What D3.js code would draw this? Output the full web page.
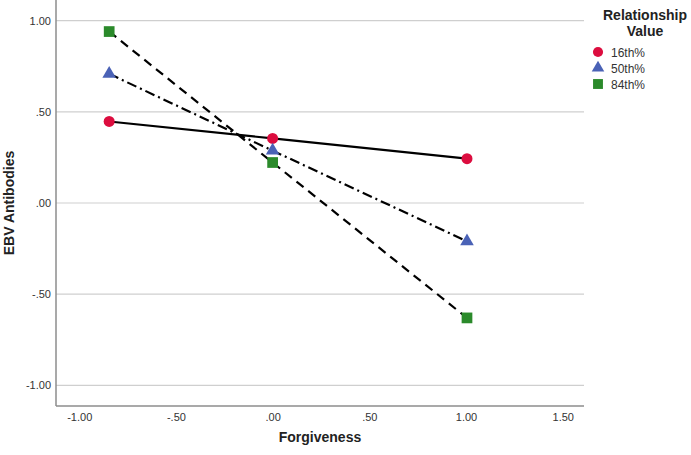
<!DOCTYPE html>
<html><head><meta charset="utf-8">
<script src="https://cdn.jsdelivr.net/npm/d3@7"></script>
<style>body{margin:0;background:#fff}svg{display:block;font-family:Arial,"Liberation Sans",sans-serif}</style>
</head><body><svg id="c" width="691" height="455"></svg>
<script>
const xValues = [-0.845, 0.0, 1.005];
const seriesNames = ["16th%", "50th%", "84th%"];
const series16 = [0.447, 0.354, 0.243];
const series50 = [0.708, 0.287, -0.21];
const series84 = [0.94, 0.222, -0.63];
const xTicks = [-1.0, -0.5, 0.0, 0.5, 1.0, 1.5];
const yTicks = [-1.0, -0.5, 0.0, 0.5, 1.0];

const fmt = v => { let s = Math.abs(v).toFixed(2); if (s.startsWith("0")) s = s.slice(1); return (v < 0 ? "-" : "") + s; };

const svg = d3.select("#c");
const L = 56, R = 584, T = 0, B = 406;
const x = d3.scaleLinear().domain([-1.12, 1.61]).range([L, R]);
const y = d3.scaleLinear().domain([-1.113, 1.113]).range([B, T]);

// grid
svg.append("g").selectAll("line").data(yTicks).join("line")
  .attr("x1", L).attr("x2", R).attr("y1", d => y(d)).attr("y2", d => y(d))
  .attr("stroke", "#cfcfcf").attr("stroke-width", 1.2);

// axes
const yAxis = svg.append("g").attr("transform", `translate(${L},0)`)
  .call(d3.axisLeft(y).tickValues(yTicks).tickFormat(fmt).tickSize(0).tickPadding(5));
const xAxis = svg.append("g").attr("transform", `translate(0,${B})`)
  .call(d3.axisBottom(x).tickValues(xTicks).tickFormat(fmt).tickSize(0).tickPadding(7));
[xAxis, yAxis].forEach(a => {
  a.select(".domain").attr("stroke", "#8c8c8c").attr("stroke-width", 1.5);
  a.selectAll("text").attr("fill", "#333").attr("font-size", 11);
});
yAxis.select(".domain").attr("d", `M0,${T}V${B}`);
xAxis.select(".domain").attr("d", `M${L},0H${R}`);

const data = [
  {name: seriesNames[0], vals: series16, color: "#dc0d3f", shape: d3.symbolCircle, size: 95, dash: null},
  {name: seriesNames[1], vals: series50, color: "#4a62b6", shape: d3.symbolTriangle, size: 80, dash: "10,4,2,4"},
  {name: seriesNames[2], vals: series84, color: "#2b8a2b", shape: d3.symbolSquare, size: 115, dash: "9,6"}
];

const line = d3.line().x((d, i) => x(xValues[i])).y(d => y(d));
data.forEach(s => {
  svg.append("path").attr("d", line(s.vals)).attr("fill", "none")
    .attr("stroke", "#000").attr("stroke-width", 2.2)
    .attr("stroke-dasharray", s.dash);
});
data.forEach(s => {
  svg.append("g").selectAll("path").data(s.vals).join("path")
    .attr("transform", (d, i) => `translate(${x(xValues[i])},${y(d)})`)
    .attr("d", d3.symbol().type(s.shape).size(s.size))
    .attr("fill", s.color);
});

// axis titles
svg.append("text").attr("x", 320).attr("y", 442).attr("text-anchor", "middle")
  .attr("font-size", 14).attr("font-weight", "bold").attr("fill", "#222").text("Forgiveness");
svg.append("text").attr("transform", "translate(14,203) rotate(-90)").attr("text-anchor", "middle")
  .attr("font-size", 14).attr("font-weight", "bold").attr("fill", "#222").text("EBV Antibodies");

// legend
const lg = svg.append("g");
lg.append("text").attr("x", 645).attr("y", 20).attr("text-anchor", "middle")
  .attr("font-size", 14).attr("font-weight", "bold").attr("fill", "#222").text("Relationship");
lg.append("text").attr("x", 645).attr("y", 36).attr("text-anchor", "middle")
  .attr("font-size", 14).attr("font-weight", "bold").attr("fill", "#222").text("Value");
data.forEach((s, i) => {
  const yy = 52 + i * 16;
  lg.append("path").attr("transform", `translate(598,${yy})`)
    .attr("d", d3.symbol().type(s.shape).size(s.size * 0.85)).attr("fill", s.color);
  lg.append("text").attr("x", 611).attr("y", yy + 4.5).attr("font-size", 12).attr("fill", "#333").text(s.name);
});
</script></body></html>
